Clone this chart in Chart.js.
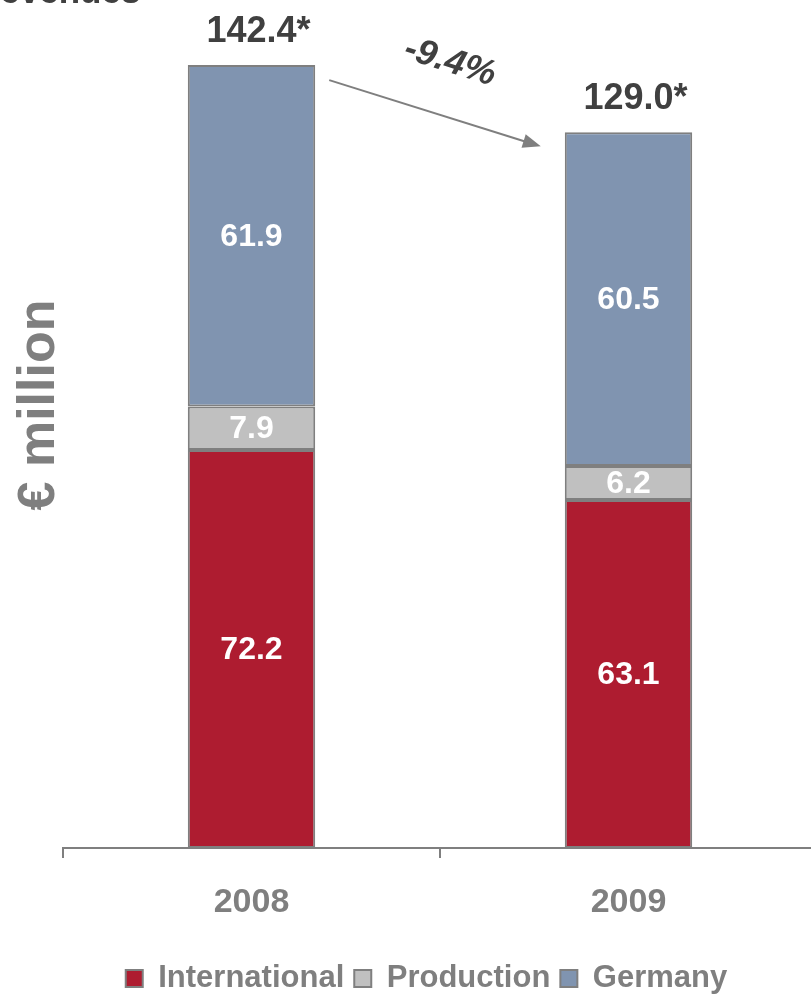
<!DOCTYPE html>
<html>
<head>
<meta charset="utf-8">
<script src="https://cdn.jsdelivr.net/npm/chart.js@4.4.1/dist/chart.umd.min.js"></script>
<style>
html,body{margin:0;padding:0;background:#fff;overflow:hidden;width:811px;height:994px;}
#wrap{position:relative;width:830px;height:1004px;}
</style>
</head>
<body>
<div id="wrap"><canvas id="c"></canvas></div>
<script>
const categories = ['2008', '2009'];
const seriesNames = ['International', 'Production', 'Germany'];
const international = [72.2, 63.1];
const production = [7.9, 6.2];
const germany = [61.9, 60.5];
const totalLabels = ['142.4', '129.0'];
const changeLabel = '-9.4%';
const yTitle = '€ million';
const pageTitle = 'Revenues';

const colors = ['#AE1C30', '#C0C0C0', '#8094B0'];
const FONT = '"Liberation Sans", Arial, sans-serif';

const extras = {
  id: 'extras',
  afterDatasetsDraw(chart) {
    const ctx = chart.ctx;
    ctx.save();
    chart.data.datasets.forEach((ds, di) => {
      const meta = chart.getDatasetMeta(di);
      meta.data.forEach((bar, i) => {
        const y = (bar.y + bar.base) / 2;
        ctx.font = 'bold 32px ' + FONT;
        ctx.fillStyle = '#ffffff';
        ctx.textAlign = 'center';
        ctx.textBaseline = 'middle';
        ctx.fillText(ds.data[i].toFixed(1), bar.x, y + 1);
      });
    });
    const topMeta = chart.getDatasetMeta(chart.data.datasets.length - 1);
    ctx.font = 'bold 36px ' + FONT;
    ctx.fillStyle = '#404040';
    ctx.textAlign = 'left';
    ctx.textBaseline = 'middle';
    topMeta.data.forEach((bar, i) => {
      const w = ctx.measureText(totalLabels[i]).width;
      ctx.fillText(totalLabels[i] + '*', bar.x - w / 2, bar.y - 33);
    });
    const b1 = topMeta.data[0], b2 = topMeta.data[1];
    const x1 = b1.x + b1.width / 2 + 14, y1 = b1.y + 15;
    const x2 = b2.x - b2.width / 2 - 24, y2 = b2.y + 14;
    const ang = Math.atan2(y2 - y1, x2 - x1);
    ctx.strokeStyle = '#7f7f7f';
    ctx.fillStyle = '#7f7f7f';
    ctx.lineWidth = 2;
    ctx.beginPath();
    ctx.moveTo(x1, y1);
    ctx.lineTo(x2 - 14 * Math.cos(ang), y2 - 14 * Math.sin(ang));
    ctx.stroke();
    ctx.beginPath();
    ctx.moveTo(x2, y2);
    ctx.lineTo(x2 - 18 * Math.cos(ang) + 7 * Math.sin(ang), y2 - 18 * Math.sin(ang) - 7 * Math.cos(ang));
    ctx.lineTo(x2 - 18 * Math.cos(ang) - 7 * Math.sin(ang), y2 - 18 * Math.sin(ang) + 7 * Math.cos(ang));
    ctx.closePath();
    ctx.fill();
    ctx.save();
    ctx.translate((x1 + x2) / 2 + 15, (y1 + y2) / 2 - 51);
    ctx.rotate(ang);
    ctx.font = 'italic bold 36px ' + FONT;
    ctx.fillStyle = '#404040';
    ctx.textAlign = 'center';
    ctx.textBaseline = 'middle';
    ctx.fillText(changeLabel, 0, 0);
    ctx.restore();
    ctx.save();
    ctx.translate(40, 405);
    ctx.rotate(-Math.PI / 2);
    ctx.font = 'bold 52px ' + FONT;
    ctx.fillStyle = '#7f7f7f';
    ctx.textAlign = 'center';
    ctx.textBaseline = 'middle';
    ctx.fillText(yTitle, 0, 0);
    ctx.restore();
    ctx.font = 'bold 35px ' + FONT;
    ctx.fillStyle = '#404040';
    ctx.textAlign = 'left';
    ctx.textBaseline = 'alphabetic';
    ctx.fillText(pageTitle, -25, 3);
    ctx.restore();
  }
};

new Chart(document.getElementById('c'), {
  type: 'bar',
  data: {
    labels: categories,
    datasets: [international, production, germany].map((d, i) => ({
      label: seriesNames[i],
      data: d,
      backgroundColor: colors[i],
      borderColor: '#7f7f7f',
      borderWidth: 2,
      borderSkipped: false,
      categoryPercentage: 1,
      barPercentage: 0.338
    }))
  },
  options: {
    responsive: true,
    maintainAspectRatio: false,
    animation: false,
    layout: { padding: { left: 36, right: 13, top: 21, bottom: 0 } },
    scales: {
      x: {
        stacked: true,
        offset: true,
        grid: { offset: true, drawOnChartArea: false, drawTicks: true, tickLength: 10, color: '#7f7f7f', lineWidth: 2 },
        border: { display: true, color: '#7f7f7f', width: 2 },
        ticks: { padding: 24, color: '#7f7f7f', font: { family: FONT, size: 34, weight: 'bold' } },
        afterFit(scale) { scale.height = 105; }
      },
      y: {
        stacked: true,
        display: true,
        min: 0,
        max: 150,
        grid: { display: false, drawTicks: false },
        border: { display: false },
        ticks: { display: false },
        afterFit(scale) { scale.width = 27; }
      }
    },
    plugins: {
      legend: {
        position: 'bottom',
        labels: {
          boxWidth: 17,
          boxHeight: 17,
          padding: 10,
          color: '#7f7f7f',
          font: { family: FONT, size: 31, weight: 'bold' }
        }
      },
      tooltip: { enabled: false }
    }
  },
  plugins: [extras]
});
</script>
</body>
</html>
